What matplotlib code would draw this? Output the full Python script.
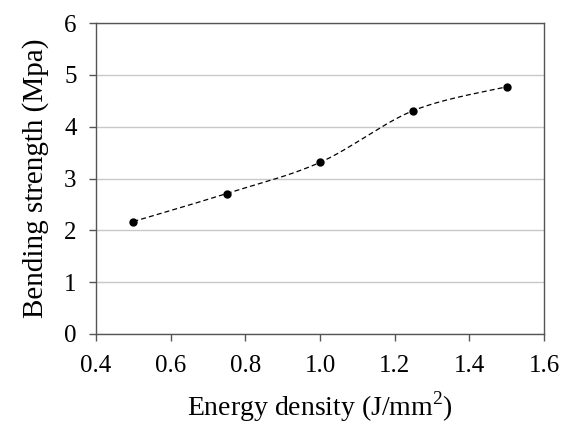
import numpy as np
import matplotlib
matplotlib.use("Agg")
import matplotlib.pyplot as plt

# data
energy = [0.5, 0.75, 1.0, 1.25, 1.5]
strength = [2.17, 2.71, 3.31, 4.31, 4.77]

plt.rcParams['font.family'] = ['Liberation Serif', 'DejaVu Serif']
plt.rcParams['mathtext.fontset'] = 'custom'
plt.rcParams['mathtext.rm'] = 'Liberation Serif'


def smooth(xs, ys, n=40):
    # Excel-style smoothed line: cubic Bezier with control points at 1/6 of the neighbour span
    xs = np.asarray(xs, float)
    ys = np.asarray(ys, float)
    px = np.concatenate([[xs[0]], xs, [xs[-1]]])
    py = np.concatenate([[ys[0]], ys, [ys[-1]]])
    out_x, out_y = [], []
    t = np.linspace(0, 1, n)
    for i in range(1, len(px) - 2):
        p0 = np.array([px[i], py[i]])
        p3 = np.array([px[i + 1], py[i + 1]])
        p1 = p0 + (np.array([px[i + 1], py[i + 1]]) - np.array([px[i - 1], py[i - 1]])) / 6
        p2 = p3 - (np.array([px[i + 2], py[i + 2]]) - np.array([px[i], py[i]])) / 6
        b = ((1 - t) ** 3)[:, None] * p0 + (3 * (1 - t) ** 2 * t)[:, None] * p1 \
            + (3 * (1 - t) * t ** 2)[:, None] * p2 + (t ** 3)[:, None] * p3
        out_x.extend(b[:, 0])
        out_y.extend(b[:, 1])
    return out_x, out_y


fig = plt.figure(figsize=(5.65, 4.25), dpi=100)
ax = fig.add_axes([96 / 565, 1 - 334 / 425, 448 / 565, 311 / 425])

sx, sy = smooth(energy, strength)
ax.plot(sx, sy, color='black', linewidth=0.9, linestyle=(0, (4, 2.5)))
ax.plot(energy, strength, linestyle='none', marker='o', markersize=5, color='black')

ax.set_xlim(0.4, 1.6)
ax.set_ylim(0, 6)
ax.set_xticks(np.arange(0.4, 1.61, 0.2))
ax.set_xticklabels(['0.4', '0.6', '0.8', '1.0', '1.2', '1.4', '1.6'])
ax.set_yticks(range(0, 7))
ax.yaxis.grid(True, color='#c8c8c8', linewidth=1.0)
ax.set_axisbelow(True)

for s in ax.spines.values():
    s.set_color('#555555')
    s.set_linewidth(1.0)
ax.tick_params(axis='both', direction='out', length=5, width=1.0, color='#555555',
               labelsize=18)
ax.tick_params(axis='x', pad=10)
ax.tick_params(axis='y', pad=9)

ax.set_xlabel('Energy density (J/mm$^2$)', fontsize=20, labelpad=9)
ax.set_ylabel('Bending strength (Mpa)', fontsize=21, labelpad=11)

fig.savefig('out.png', dpi=100)
